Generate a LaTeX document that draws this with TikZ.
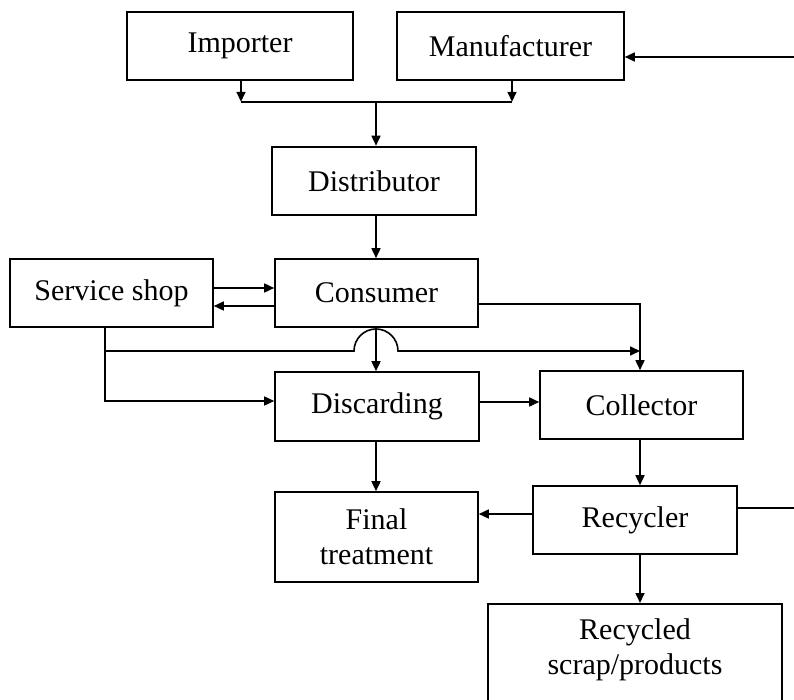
\documentclass[tikz,border=0pt]{standalone}
\usepackage{fontspec}
\setmainfont{Liberation Serif}
\usetikzlibrary{arrows.meta}
\begin{document}
\begin{tikzpicture}[x=1pt,y=-1pt, font=\fontsize{30}{35}\selectfont,
  box/.style={draw, line width=1.6pt, inner sep=0pt, align=center},
  arr/.style={line width=1.6pt, -{Triangle[length=10pt,width=9pt]}},
  ln/.style={line width=1.6pt}]
\useasboundingbox (0,0) rectangle (794,700);
\clip (0,0) rectangle (794,700);
% boxes
\node[box, minimum width=226, minimum height=68] (imp) at (240,46) {Importer};
\node[box, minimum width=227, minimum height=68] (man) at (510.5,46) {Manufacturer};
\node[box, line width=2.6pt, minimum width=204, minimum height=68] (dist) at (374,181) {Distributor};
\node[box, minimum width=203, minimum height=68] (ss) at (111.5,293) {Service shop};
\node[box, minimum width=203, minimum height=68] (cons) at (376.5,293) {Consumer};
\node[box, minimum width=204, minimum height=69] (disc) at (377,406.5) {Discarding};
\node[box, minimum width=203, minimum height=68] (coll) at (641.5,405) {Collector};
\node[box, minimum width=203, minimum height=90] (fin) at (376.5,537) {Final\\treatment};
\node[box, minimum width=204, minimum height=68] (rec) at (635,520) {Recycler};
\node[box, minimum width=294, minimum height=130, anchor=north] (rsp) at (635,603) {};
\node[align=center, inner sep=0pt] (rsptext) at (635,650) {Recycled\\scrap/products};
% helper coordinates
\coordinate (xL) at (105,0);
\coordinate (xImp) at (241,0);
\coordinate (xMan) at (512,0);
\coordinate (xMid) at (376,0);
\coordinate (xC) at (640,0);
\coordinate (yJ) at (0,102);
\coordinate (yRt) at (0,57);
\coordinate (yS1) at (0,288);
\coordinate (yS2) at (0,306);
\coordinate (yCr) at (0,304);
\coordinate (yHop) at (0,351);
\coordinate (yDl) at (0,401);
\coordinate (yDc) at (0,402);
\coordinate (yRf) at (0,514);
\coordinate (yRr) at (0,508);
\coordinate (rt1) at (794,57);
\coordinate (rt2) at (794,508);
% top section
\draw[arr] (imp.south -| xImp) -- ++(0,21);
\draw[arr] (man.south -| xMan) -- ++(0,21);
\draw[ln] (xImp |- yJ) -- (xMan |- yJ);
\draw[arr] (xMid |- yJ) -- (dist.north -| xMid);
\draw[arr] (rt1) -- (man.east |- yRt);
\draw[arr] (dist.south -| xMid) -- (cons.north -| xMid);
% service shop <-> consumer
\draw[arr] (ss.east |- yS1) -- (cons.west |- yS1);
\draw[arr] (cons.west |- yS2) -- (ss.east |- yS2);
% consumer -> collector
\draw[arr] (cons.east |- yCr) -| (coll.north -| xC);
% consumer -> discarding
\draw[arr] (cons.south -| xMid) -- (disc.north -| xMid);
% service shop -> discarding
\draw[arr] (ss.south -| xL) |- (disc.west |- yDl);
% service shop -> collector line with hop
\draw[arr] (xL |- yHop) -- (354,351) arc[start angle=180, end angle=0, radius=22pt] -- (xC |- yHop);
% discarding -> collector
\draw[arr] (disc.east |- yDc) -- (coll.west |- yDc);
% discarding -> final
\draw[arr] (disc.south -| xMid) -- (fin.north -| xMid);
% collector -> recycler
\draw[arr] (coll.south -| xC) -- (rec.north -| xC);
% recycler -> final
\draw[arr] (rec.west |- yRf) -- (fin.east |- yRf);
% recycler -> right edge
\draw[ln] (rec.east |- yRr) -- (rt2);
% recycler -> recycled products
\draw[arr] (rec.south -| xC) -- (rsp.north -| xC);
\end{tikzpicture}
\end{document}
